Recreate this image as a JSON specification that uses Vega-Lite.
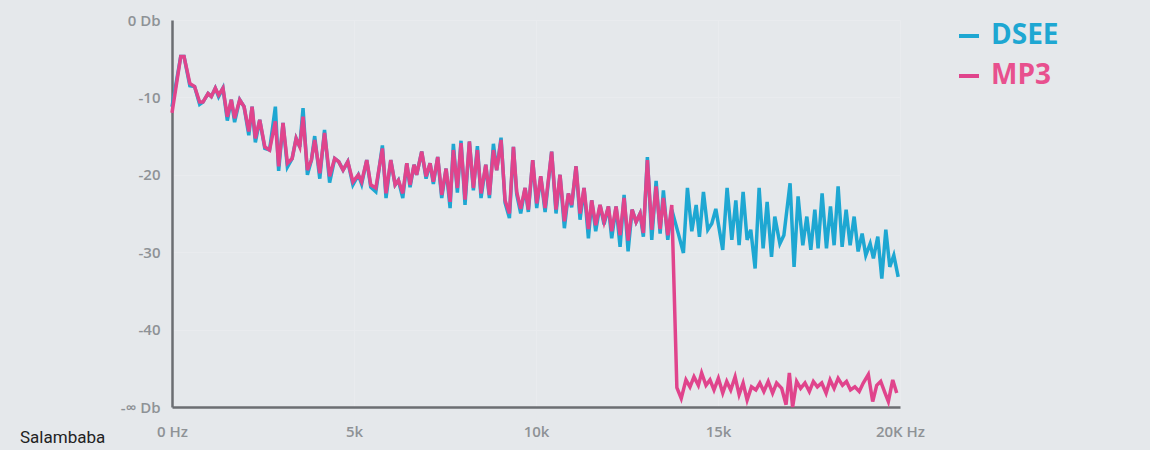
{
  "$schema": "https://vega.github.io/schema/vega-lite/v6.json",
  "autosize": {"type": "none"},
  "width": 728,
  "height": 387,
  "padding": {"left": 172, "top": 20, "right": 250, "bottom": 43},
  "background": "#e5e8eb",
  "config": {
    "view": {"stroke": null},
    "font": "Open Sans"
  },
  "title": {
    "text": "Salambaba",
    "orient": "bottom",
    "anchor": "start",
    "frame": "group",
    "baseline": "top",
    "dx": -152,
    "dy": -9,
    "offset": 0,
    "fontSize": 17,
    "fontWeight": "normal",
    "font": "Roboto",
    "color": "#222222"
  },
  "data": {
    "values": [
      {"f": 0, "DSEE": -11.2, "MP3": -12.0},
      {"f": 240, "DSEE": -4.7, "MP3": -4.7},
      {"f": 330, "DSEE": -4.7, "MP3": -4.7},
      {"f": 490, "DSEE": -8.5, "MP3": -8.2},
      {"f": 620, "DSEE": -8.6, "MP3": -8.6},
      {"f": 760, "DSEE": -10.9, "MP3": -10.6},
      {"f": 850, "DSEE": -10.6, "MP3": -10.6},
      {"f": 990, "DSEE": -9.5, "MP3": -9.5},
      {"f": 1080, "DSEE": -9.9, "MP3": -9.9},
      {"f": 1190, "DSEE": -8.8, "MP3": -8.8},
      {"f": 1280, "DSEE": -9.9, "MP3": -9.7},
      {"f": 1400, "DSEE": -8.8, "MP3": -8.8},
      {"f": 1520, "DSEE": -13.0, "MP3": -12.5},
      {"f": 1630, "DSEE": -10.3, "MP3": -10.3},
      {"f": 1720, "DSEE": -13.2, "MP3": -12.7},
      {"f": 1860, "DSEE": -10.3, "MP3": -10.3},
      {"f": 1980, "DSEE": -11.2, "MP3": -11.2},
      {"f": 2110, "DSEE": -14.9, "MP3": -14.4},
      {"f": 2200, "DSEE": -11.2, "MP3": -11.2},
      {"f": 2290, "DSEE": -15.8, "MP3": -15.3},
      {"f": 2410, "DSEE": -12.9, "MP3": -12.9},
      {"f": 2550, "DSEE": -16.6, "MP3": -16.4},
      {"f": 2680, "DSEE": -16.8, "MP3": -16.8},
      {"f": 2840, "DSEE": -11.2, "MP3": -13.1},
      {"f": 2930, "DSEE": -19.5, "MP3": -18.9},
      {"f": 3050, "DSEE": -13.3, "MP3": -13.3},
      {"f": 3170, "DSEE": -19.0, "MP3": -18.5},
      {"f": 3300, "DSEE": -17.9, "MP3": -17.9},
      {"f": 3410, "DSEE": -15.3, "MP3": -15.3},
      {"f": 3510, "DSEE": -16.4, "MP3": -16.4},
      {"f": 3600, "DSEE": -11.4, "MP3": -12.5},
      {"f": 3720, "DSEE": -20.0, "MP3": -19.4},
      {"f": 3830, "DSEE": -18.1, "MP3": -18.1},
      {"f": 3920, "DSEE": -15.0, "MP3": -15.5},
      {"f": 4060, "DSEE": -20.5, "MP3": -19.8},
      {"f": 4190, "DSEE": -14.2, "MP3": -14.6},
      {"f": 4330, "DSEE": -21.0, "MP3": -20.2},
      {"f": 4470, "DSEE": -17.9, "MP3": -17.9},
      {"f": 4580, "DSEE": -18.3, "MP3": -18.3},
      {"f": 4700, "DSEE": -19.4, "MP3": -19.4},
      {"f": 4830, "DSEE": -18.3, "MP3": -18.3},
      {"f": 4970, "DSEE": -21.3, "MP3": -20.9},
      {"f": 5120, "DSEE": -20.0, "MP3": -20.0},
      {"f": 5210, "DSEE": -21.2, "MP3": -20.9},
      {"f": 5350, "DSEE": -18.1, "MP3": -18.1},
      {"f": 5460, "DSEE": -21.6, "MP3": -21.3},
      {"f": 5600, "DSEE": -22.2, "MP3": -21.7},
      {"f": 5780, "DSEE": -16.2, "MP3": -16.6},
      {"f": 5880, "DSEE": -23.0, "MP3": -22.4},
      {"f": 6010, "DSEE": -18.1, "MP3": -18.1},
      {"f": 6130, "DSEE": -21.3, "MP3": -21.3},
      {"f": 6220, "DSEE": -20.7, "MP3": -20.7},
      {"f": 6340, "DSEE": -23.0, "MP3": -22.4},
      {"f": 6450, "DSEE": -18.5, "MP3": -18.5},
      {"f": 6540, "DSEE": -21.6, "MP3": -21.3},
      {"f": 6650, "DSEE": -18.7, "MP3": -18.7},
      {"f": 6720, "DSEE": -20.0, "MP3": -20.0},
      {"f": 6860, "DSEE": -17.0, "MP3": -17.0},
      {"f": 6980, "DSEE": -20.5, "MP3": -20.2},
      {"f": 7090, "DSEE": -18.5, "MP3": -18.5},
      {"f": 7180, "DSEE": -21.2, "MP3": -20.9},
      {"f": 7300, "DSEE": -17.7, "MP3": -17.7},
      {"f": 7410, "DSEE": -23.0, "MP3": -22.6},
      {"f": 7530, "DSEE": -19.2, "MP3": -19.2},
      {"f": 7640, "DSEE": -24.3, "MP3": -23.5},
      {"f": 7730, "DSEE": -16.0, "MP3": -16.8},
      {"f": 7840, "DSEE": -22.3, "MP3": -21.7},
      {"f": 7940, "DSEE": -15.6, "MP3": -15.9},
      {"f": 8050, "DSEE": -23.9, "MP3": -23.2},
      {"f": 8170, "DSEE": -15.7, "MP3": -15.7},
      {"f": 8280, "DSEE": -22.0, "MP3": -21.7},
      {"f": 8390, "DSEE": -16.3, "MP3": -16.8},
      {"f": 8490, "DSEE": -23.0, "MP3": -22.4},
      {"f": 8620, "DSEE": -18.7, "MP3": -18.7},
      {"f": 8720, "DSEE": -23.0, "MP3": -22.6},
      {"f": 8830, "DSEE": -16.0, "MP3": -16.8},
      {"f": 8920, "DSEE": -19.4, "MP3": -19.4},
      {"f": 9040, "DSEE": -15.2, "MP3": -15.5},
      {"f": 9150, "DSEE": -23.6, "MP3": -23.3},
      {"f": 9270, "DSEE": -25.6, "MP3": -25.0},
      {"f": 9380, "DSEE": -16.4, "MP3": -16.4},
      {"f": 9470, "DSEE": -22.5, "MP3": -22.2},
      {"f": 9580, "DSEE": -25.0, "MP3": -24.4},
      {"f": 9700, "DSEE": -21.7, "MP3": -21.7},
      {"f": 9790, "DSEE": -24.8, "MP3": -24.5},
      {"f": 9910, "DSEE": -18.1, "MP3": -18.1},
      {"f": 10020, "DSEE": -24.3, "MP3": -23.7},
      {"f": 10130, "DSEE": -20.2, "MP3": -20.2},
      {"f": 10250, "DSEE": -24.8, "MP3": -24.3},
      {"f": 10430, "DSEE": -17.0, "MP3": -17.0},
      {"f": 10550, "DSEE": -25.0, "MP3": -24.5},
      {"f": 10660, "DSEE": -20.0, "MP3": -20.0},
      {"f": 10780, "DSEE": -26.9, "MP3": -26.0},
      {"f": 10890, "DSEE": -22.4, "MP3": -22.4},
      {"f": 10980, "DSEE": -24.2, "MP3": -23.9},
      {"f": 11100, "DSEE": -18.9, "MP3": -18.9},
      {"f": 11210, "DSEE": -25.8, "MP3": -25.0},
      {"f": 11320, "DSEE": -21.7, "MP3": -21.7},
      {"f": 11440, "DSEE": -28.2, "MP3": -27.0},
      {"f": 11530, "DSEE": -23.3, "MP3": -23.3},
      {"f": 11640, "DSEE": -27.3, "MP3": -26.5},
      {"f": 11760, "DSEE": -23.9, "MP3": -23.9},
      {"f": 11870, "DSEE": -26.4, "MP3": -26.1},
      {"f": 11990, "DSEE": -24.1, "MP3": -24.1},
      {"f": 12080, "DSEE": -28.2, "MP3": -27.3},
      {"f": 12200, "DSEE": -24.1, "MP3": -24.1},
      {"f": 12310, "DSEE": -29.3, "MP3": -27.8},
      {"f": 12420, "DSEE": -22.6, "MP3": -23.0},
      {"f": 12530, "DSEE": -29.9, "MP3": -28.5},
      {"f": 12640, "DSEE": -24.5, "MP3": -24.5},
      {"f": 12750, "DSEE": -26.1, "MP3": -26.1},
      {"f": 12860, "DSEE": -25.0, "MP3": -25.0},
      {"f": 12950, "DSEE": -28.0, "MP3": -27.5},
      {"f": 13060, "DSEE": -17.7, "MP3": -18.1},
      {"f": 13180, "DSEE": -28.4, "MP3": -27.1},
      {"f": 13300, "DSEE": -20.8, "MP3": -21.5},
      {"f": 13410, "DSEE": -27.6, "MP3": -27.0},
      {"f": 13500, "DSEE": -22.0, "MP3": -23.0},
      {"f": 13620, "DSEE": -28.4, "MP3": -27.8},
      {"f": 13730, "DSEE": -24.5, "MP3": -23.9},
      {"f": 13870, "MP3": -47.5},
      {"f": 13910, "DSEE": -27.6},
      {"f": 13990, "MP3": -48.9},
      {"f": 14050, "DSEE": -30.1},
      {"f": 14120, "MP3": -46.5},
      {"f": 14160, "DSEE": -21.7},
      {"f": 14230, "MP3": -47.4},
      {"f": 14280, "DSEE": -27.3},
      {"f": 14340, "MP3": -46.1},
      {"f": 14400, "DSEE": -23.9},
      {"f": 14460, "MP3": -47.2},
      {"f": 14490, "DSEE": -28.0},
      {"f": 14550, "MP3": -45.6},
      {"f": 14600, "DSEE": -22.2},
      {"f": 14670, "MP3": -47.2},
      {"f": 14720, "DSEE": -27.1},
      {"f": 14780, "MP3": -46.5},
      {"f": 14830, "DSEE": -26.3},
      {"f": 14890, "MP3": -47.8},
      {"f": 14940, "DSEE": -24.4},
      {"f": 15010, "MP3": -46.3},
      {"f": 15130, "DSEE": -29.7, "MP3": -48.2},
      {"f": 15240, "MP3": -46.7},
      {"f": 15250, "DSEE": -21.7},
      {"f": 15350, "MP3": -47.8},
      {"f": 15380, "DSEE": -28.4},
      {"f": 15470, "MP3": -46.1},
      {"f": 15490, "DSEE": -23.3},
      {"f": 15580, "DSEE": -29.1, "MP3": -48.4},
      {"f": 15690, "DSEE": -22.2, "MP3": -46.9},
      {"f": 15800, "DSEE": -28.4, "MP3": -49.1},
      {"f": 15900, "DSEE": -27.1},
      {"f": 15920, "MP3": -47.4},
      {"f": 16020, "DSEE": -32.1},
      {"f": 16040, "MP3": -47.8},
      {"f": 16130, "DSEE": -21.7},
      {"f": 16150, "MP3": -46.9},
      {"f": 16240, "DSEE": -29.5},
      {"f": 16260, "MP3": -48.0},
      {"f": 16350, "DSEE": -23.5},
      {"f": 16380, "MP3": -46.7},
      {"f": 16470, "DSEE": -30.6},
      {"f": 16500, "MP3": -48.2},
      {"f": 16560, "DSEE": -25.4},
      {"f": 16610, "MP3": -46.9},
      {"f": 16700, "DSEE": -28.9},
      {"f": 16750, "MP3": -47.6},
      {"f": 16810, "DSEE": -27.8},
      {"f": 16870, "MP3": -49.7},
      {"f": 16960, "MP3": -45.6},
      {"f": 16980, "DSEE": -21.1},
      {"f": 17050, "MP3": -50.0},
      {"f": 17090, "DSEE": -31.9},
      {"f": 17160, "MP3": -46.7},
      {"f": 17200, "DSEE": -22.8},
      {"f": 17270, "MP3": -47.6},
      {"f": 17330, "DSEE": -29.1},
      {"f": 17390, "MP3": -46.9},
      {"f": 17440, "DSEE": -25.4},
      {"f": 17510, "MP3": -48.0},
      {"f": 17550, "DSEE": -29.7},
      {"f": 17620, "MP3": -46.7},
      {"f": 17660, "DSEE": -24.5},
      {"f": 17730, "MP3": -47.4},
      {"f": 17750, "DSEE": -29.5},
      {"f": 17850, "MP3": -46.9},
      {"f": 17860, "DSEE": -22.4},
      {"f": 17970, "MP3": -48.2},
      {"f": 17980, "DSEE": -29.5},
      {"f": 18080, "MP3": -46.5},
      {"f": 18090, "DSEE": -24.1},
      {"f": 18190, "DSEE": -29.1, "MP3": -47.6},
      {"f": 18300, "DSEE": -21.5, "MP3": -46.3},
      {"f": 18410, "DSEE": -29.3},
      {"f": 18420, "MP3": -47.2},
      {"f": 18520, "DSEE": -24.5},
      {"f": 18530, "MP3": -46.7},
      {"f": 18630, "DSEE": -29.1},
      {"f": 18640, "MP3": -47.8},
      {"f": 18740, "DSEE": -25.4},
      {"f": 18760, "MP3": -47.4},
      {"f": 18850, "DSEE": -29.9},
      {"f": 18880, "MP3": -48.0},
      {"f": 18960, "DSEE": -27.6},
      {"f": 18990, "MP3": -46.9},
      {"f": 19060, "DSEE": -30.4},
      {"f": 19130, "MP3": -45.8},
      {"f": 19180, "DSEE": -28.9},
      {"f": 19250, "MP3": -49.3},
      {"f": 19270, "DSEE": -30.8},
      {"f": 19360, "MP3": -47.2},
      {"f": 19390, "DSEE": -28.0},
      {"f": 19470, "MP3": -46.7},
      {"f": 19500, "DSEE": -33.4},
      {"f": 19590, "MP3": -48.2},
      {"f": 19610, "DSEE": -27.1},
      {"f": 19680, "MP3": -49.3},
      {"f": 19720, "DSEE": -31.9},
      {"f": 19800, "MP3": -46.5},
      {"f": 19830, "DSEE": -30.4},
      {"f": 19910, "MP3": -48.2},
      {"f": 19950, "DSEE": -33.2}
    ]
  },
  "transform": [
    {"fold": ["DSEE", "MP3"], "as": ["series", "db"]},
    {"filter": "isValid(datum.db)"}
  ],
  "mark": {"type": "line", "strokeWidth": 3.5, "clip": false},
  "encoding": {
    "x": {
      "field": "f",
      "type": "quantitative",
      "scale": {"domain": [0, 20000], "nice": false, "zero": false},
      "axis": {
        "title": null,
        "values": [0, 5000, 10000, 15000, 20000],
        "labelExpr": "datum.value == 0 ? '0 Hz' : datum.value == 20000 ? '20K Hz' : (datum.value / 1000) + 'k'",
        "ticks": false,
        "grid": true,
        "gridColor": "#e9ebee",
        "gridWidth": 1,
        "domainColor": "#6b6e72",
        "domainWidth": 2.5,
        "labelColor": "#8e9296",
        "labelFontSize": 15,
        "labelFontWeight": 600,
        "labelPadding": 17,
        "labelFlush": false
      }
    },
    "y": {
      "field": "db",
      "type": "quantitative",
      "scale": {"domain": [-50, 0], "nice": false, "zero": false},
      "axis": {
        "title": null,
        "values": [0, -10, -20, -30, -40, -50],
        "labelExpr": "datum.value == 0 ? '0 Db' : datum.value == -50 ? '-∞ Db' : '-' + abs(datum.value)",
        "ticks": false,
        "grid": true,
        "gridColor": "#e9ebee",
        "gridWidth": 1,
        "domainColor": "#6b6e72",
        "domainWidth": 2.5,
        "labelColor": "#8e9296",
        "labelFontSize": 15,
        "labelFontWeight": 600,
        "labelPadding": 12
      }
    },
    "color": {
      "field": "series",
      "type": "nominal",
      "scale": {"domain": ["DSEE", "MP3"], "range": ["#1ea7d2", "#e0448c"]},
      "legend": {
        "title": null,
        "orient": "none",
        "legendX": 783,
        "legendY": 2,
        "symbolType": "stroke",
        "symbolSize": 400,
        "symbolStrokeWidth": 4,
        "labelFontSize": 28,
        "labelFontWeight": "bold",
        "labelFont": "Open Sans",
        "labelOffset": 8,
        "rowPadding": 12,
        "labelColor": {"expr": "datum.label == 'DSEE' ? '#1ea7d2' : '#e8508e'"}
      }
    }
  }
}
